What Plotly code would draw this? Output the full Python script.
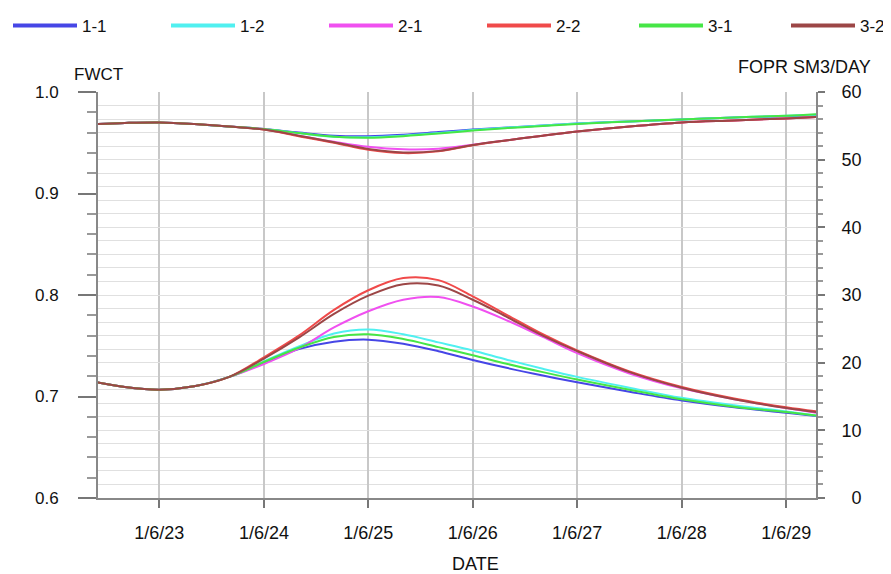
import plotly.graph_objects as go

# ---- data ----
dates = ["2022-10-27", "2023-02-01", "2023-06-01", "2023-10-01", "2024-02-01",
         "2024-06-01", "2024-10-01", "2025-02-01", "2025-06-01", "2025-10-01",
         "2026-02-01", "2026-06-01", "2026-10-01", "2027-02-01", "2027-06-01",
         "2027-12-01", "2028-06-01", "2028-12-01", "2029-06-01", "2029-09-14"]

tick_dates = ["2023-06-01", "2024-06-01", "2025-06-01", "2026-06-01",
              "2027-06-01", "2028-06-01", "2029-06-01"]
tick_labels = ["1/6/23", "1/6/24", "1/6/25", "1/6/26", "1/6/27", "1/6/28", "1/6/29"]

fwct_ticks = [0.6, 0.7, 0.8, 0.9, 1.0]
fwct_tick_labels = ["0.6", "0.7", "0.8", "0.9", "1.0"]
fopr_ticks = [0, 10, 20, 30, 40, 50, 60]
fopr_tick_labels = ["\u20070", "10", "20", "30", "40", "50", "60"]

series_names = ["1-1", "1-2", "2-1", "2-2", "3-1", "3-2"]
series_colors = ["#4646e6", "#50f0f0", "#f050f0", "#f04a4a", "#46e646", "#9c4646"]

fwct_start = [0.9685, 0.9695, 0.970, 0.9685, 0.966]
fwct_11 = fwct_start + [0.9635, 0.960, 0.957, 0.9565, 0.958, 0.9605, 0.963, 0.965, 0.967, 0.969, 0.971, 0.973, 0.975, 0.976, 0.977]
fwct_12 = fwct_start + [0.9635, 0.9595, 0.956, 0.9555, 0.957, 0.9595, 0.9625, 0.965, 0.967, 0.969, 0.971, 0.973, 0.975, 0.9765, 0.9775]
fwct_21 = fwct_start + [0.9635, 0.957, 0.951, 0.946, 0.9435, 0.944, 0.948, 0.9525, 0.957, 0.961, 0.966, 0.970, 0.972, 0.974, 0.9755]
fwct_22 = fwct_start + [0.963, 0.9565, 0.950, 0.943, 0.9398, 0.9415, 0.9475, 0.9525, 0.957, 0.961, 0.966, 0.970, 0.972, 0.974, 0.9755]
fwct_31 = fwct_start + [0.9635, 0.9595, 0.956, 0.955, 0.9565, 0.959, 0.962, 0.9645, 0.9665, 0.9685, 0.971, 0.973, 0.975, 0.9765, 0.978]
fwct_32 = fwct_start + [0.963, 0.957, 0.9505, 0.9438, 0.9405, 0.942, 0.9478, 0.9525, 0.957, 0.961, 0.966, 0.970, 0.972, 0.974, 0.9755]

fopr_start = [17.1, 16.4, 16.0, 16.5, 17.9]
fopr_11 = fopr_start + [20.0, 22.0, 23.1, 23.4, 22.8, 21.7, 20.4, 19.2, 18.1, 17.1, 15.7, 14.4, 13.4, 12.6, 12.1]
fopr_12 = fopr_start + [20.2, 22.4, 24.3, 24.9, 24.2, 23.0, 21.8, 20.4, 19.1, 17.9, 16.3, 14.8, 13.7, 12.8, 12.2]
fopr_21 = fopr_start + [19.8, 22.1, 25.2, 27.6, 29.3, 29.7, 28.3, 26.2, 23.8, 21.4, 18.4, 16.2, 14.6, 13.3, 12.6]
fopr_22 = fopr_start + [20.8, 24.0, 27.8, 30.7, 32.5, 32.2, 29.8, 27.0, 24.2, 21.8, 18.7, 16.4, 14.7, 13.4, 12.8]
fopr_31 = fopr_start + [20.1, 22.2, 23.8, 24.2, 23.5, 22.3, 21.1, 19.8, 18.6, 17.5, 16.0, 14.6, 13.5, 12.7, 12.2]
fopr_32 = fopr_start + [20.6, 23.7, 27.2, 29.9, 31.6, 31.4, 29.3, 26.7, 24.0, 21.7, 18.6, 16.3, 14.6, 13.3, 12.7]

fwct_all = [fwct_11, fwct_12, fwct_21, fwct_22, fwct_31, fwct_32]
fopr_all = [fopr_11, fopr_12, fopr_21, fopr_22, fopr_31, fopr_32]

FONT = "Arial, Liberation Sans, sans-serif"

fig = go.Figure()
for i, (name, color, fw, fo) in enumerate(zip(series_names, series_colors, fwct_all, fopr_all)):
    fig.add_trace(go.Scatter(x=dates, y=fw, mode="lines", name=name, legendgroup=name,
                             showlegend=False, line=dict(color=color, width=2, shape="spline"),
                             yaxis="y"))
    fig.add_trace(go.Scatter(x=dates, y=fo, mode="lines", name=name, legendgroup=name,
                             showlegend=False, line=dict(color=color, width=2, shape="spline"),
                             yaxis="y2"))
    # legend entry (split across two legend boxes so the row does not wrap)
    fig.add_trace(go.Scatter(x=[None], y=[None], mode="lines", name=name, legendgroup=name,
                             showlegend=True, line=dict(color=color, width=4),
                             legend="legend" if i < 4 else "legend2"))

legend_common = dict(orientation="h", xref="container", yref="container",
                     y=1.0, xanchor="left", yanchor="top",
                     itemwidth=64, entrywidthmode="pixels",
                     font=dict(size=17, family=FONT, color="#111"), bgcolor="rgba(0,0,0,0)")

fig.update_layout(
    width=883, height=566,
    margin=dict(l=90, r=75, t=84, b=76),
    paper_bgcolor="white", plot_bgcolor="white",
    font=dict(family=FONT, size=17, color="#111"),
    legend=dict(x=0.0, entrywidth=79, **legend_common),
    legend2=dict(x=626 / 883, entrywidth=73, **legend_common),
    xaxis=dict(type="date", range=["2022-10-30", "2029-09-13"],
               tickmode="array", tickvals=tick_dates, ticktext=tick_labels,
               showgrid=True, gridcolor="#c8c8c8", gridwidth=1.5,
               ticks="outside", ticklen=8, tickwidth=1.5, tickcolor="#777",
               showline=True, linecolor="#888", linewidth=2,
               tickfont=dict(size=18), zeroline=False, ticklabelstandoff=9),
    yaxis=dict(range=[0.6, 1.0], tickmode="array", tickvals=fwct_ticks,
               ticktext=fwct_tick_labels,
               ticks="outside", ticklen=18, tickwidth=2, tickcolor="#777",
               minor=dict(dtick=0.02, ticks="outside", ticklen=9, tickwidth=1.5, tickcolor="#999",
                          showgrid=False),
               showgrid=False, showline=True, linecolor="#888", linewidth=2, zeroline=False,
               tickfont=dict(size=17), ticklabelstandoff=16),
    yaxis2=dict(range=[0, 60], overlaying="y", side="right", tickmode="array",
                tickvals=fopr_ticks, ticktext=fopr_tick_labels,
                ticks="outside", ticklen=7, tickwidth=2, tickcolor="#777",
                minor=dict(dtick=2, ticks="outside", ticklen=5, tickwidth=1.5, tickcolor="#999",
                           showgrid=True, gridcolor="#e0e0e0", gridwidth=1),
                showgrid=True, gridcolor="#e0e0e0", gridwidth=1,
                showline=True, linecolor="#888", linewidth=2, zeroline=False,
                tickfont=dict(size=18), ticklabelstandoff=13),
    annotations=[
        dict(text="FWCT", xref="paper", yref="paper", x=0, y=1, xanchor="center", yanchor="middle",
             xshift=0, yshift=18, showarrow=False, font=dict(size=17)),
        dict(text="FOPR SM3/DAY", xref="paper", yref="paper", x=1, y=1, xanchor="center",
             yanchor="middle", xshift=-12, yshift=25, showarrow=False, font=dict(size=18)),
        dict(text="DATE", xref="paper", yref="paper", x=0.5, y=0, xanchor="center",
             yanchor="middle", xshift=18, yshift=-66, showarrow=False, font=dict(size=18)),
    ],
)

fig.write_html("out.html")
